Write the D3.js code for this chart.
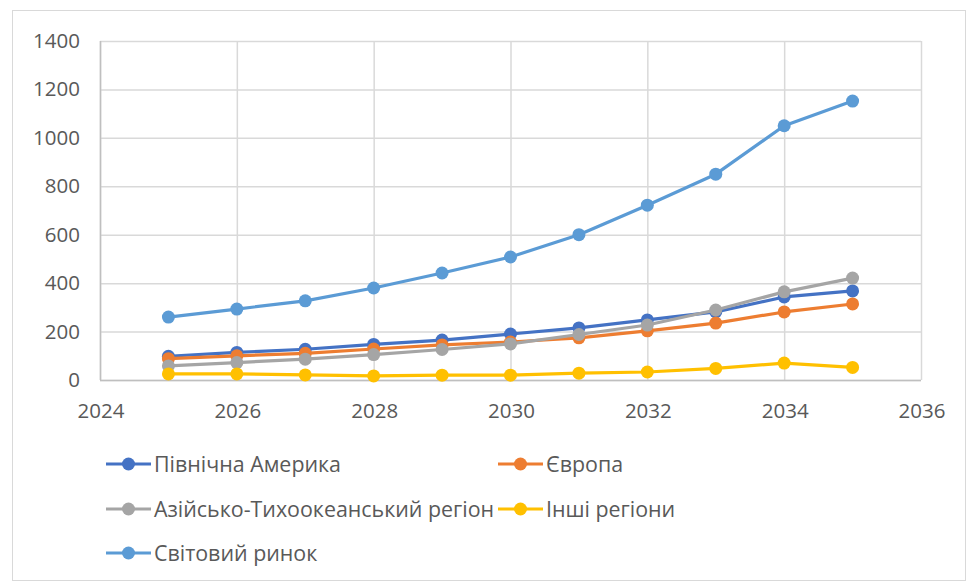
<!DOCTYPE html>
<html><head><meta charset="utf-8">
<script src="https://cdn.jsdelivr.net/npm/d3@7"></script>
<style>body{margin:0;background:#fff}svg{display:block}text{font-family:"Open Sans",sans-serif;fill:#595959}</style>
</head><body><svg id="c" width="970" height="584"></svg>
<script>
const years = [2025,2026,2027,2028,2029,2030,2031,2032,2033,2034,2035];
const northAmerica = [98,114,127,147,165,190,215,248,281,343,368];
const europe = [88,100,110,128,145,157,174,203,235,281,314];
const asiaPacific = [58,72,86,105,126,149,188,227,289,364,421];
const otherRegions = [25,25,21,17,20,20,28,33,48,70,52];
const worldMarket = [260,293,327,380,442,508,600,722,850,1050,1152];
const seriesNames = ["Північна Америка","Європа","Азійсько-Тихоокеанський регіон","Інші регіони","Світовий ринок"];
const colors = ["#4472C4","#ED7D31","#A5A5A5","#FFC000","#5B9BD5"];
const xTicks = [2024,2026,2028,2030,2032,2034,2036];
const yTicks = [0,200,400,600,800,1000,1200,1400];

const series = [northAmerica, europe, asiaPacific, otherRegions, worldMarket];
const svg = d3.select("#c");
svg.append("rect").attr("x",12.5).attr("y",10.5).attr("width",953).attr("height",570)
  .attr("fill","#fff").attr("stroke","#d9d9d9");

const L=100,R=921,T=41,B=380;
const x = d3.scaleLinear().domain([2024,2036]).range([L,R]);
const y = d3.scaleLinear().domain([0,1400]).range([B,T]);

const g = svg.append("g");
g.selectAll(".hg").data(yTicks).join("line").attr("x1",L).attr("x2",R)
  .attr("y1",d=>y(d)+0.5).attr("y2",d=>y(d)+0.5).attr("stroke","#d9d9d9").attr("stroke-width",1.5);
g.selectAll(".vg").data(xTicks).join("line").attr("y1",T).attr("y2",B)
  .attr("x1",d=>x(d)+0.5).attr("x2",d=>x(d)+0.5).attr("stroke","#d9d9d9").attr("stroke-width",1.5);
g.append("line").attr("x1",L).attr("x2",R).attr("y1",B+0.5).attr("y2",B+0.5).attr("stroke","#bfbfbf").attr("stroke-width",1.5);
g.append("line").attr("x1",L+0.5).attr("x2",L+0.5).attr("y1",T).attr("y2",B).attr("stroke","#bfbfbf").attr("stroke-width",1.5);

g.selectAll(".yl").data(yTicks).join("text").attr("x",80).attr("y",d=>y(d)+7)
  .attr("text-anchor","end").attr("font-size",20.5).text(d=>d);
g.selectAll(".xl").data(xTicks).join("text").attr("x",d=>x(d)+1).attr("y",418)
  .attr("text-anchor","middle").attr("font-size",20.5).text(d=>d);

const line = d3.line().x((d,i)=>x(years[i])).y(d=>y(d));
series.forEach((s,k)=>{
  const sg = svg.append("g");
  sg.append("path").datum(s).attr("d",line).attr("fill","none").attr("stroke",colors[k]).attr("stroke-width",3.2).attr("stroke-linejoin","round");
  sg.selectAll("circle").data(s).join("circle").attr("cx",(d,i)=>x(years[i])).attr("cy",d=>y(d)).attr("r",6.5).attr("fill",colors[k]);
});

const legPos = [[106,464],[498,464],[106,509],[498,509],[106,553]];
legPos.forEach((p,k)=>{
  const lg = svg.append("g");
  lg.append("line").attr("x1",p[0]).attr("x2",p[0]+45).attr("y1",p[1]).attr("y2",p[1]).attr("stroke",colors[k]).attr("stroke-width",3.2);
  lg.append("circle").attr("cx",p[0]+22.5).attr("cy",p[1]).attr("r",6.5).attr("fill",colors[k]);
  lg.append("text").attr("x",p[0]+48).attr("y",p[1]+7.5).attr("font-size",21.4).text(seriesNames[k]);
});
</script></body></html>
